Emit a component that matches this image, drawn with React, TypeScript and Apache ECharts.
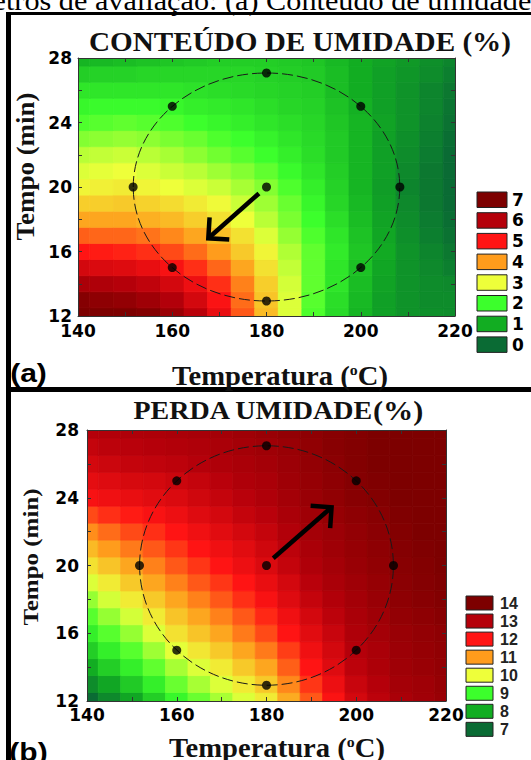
import React, { useEffect, useRef } from 'react';
import * as echarts from 'echarts';

// ---- data ----
const temperatures = [140, 145, 150, 155, 160, 165, 170, 175, 180, 185, 190, 195, 200, 205, 210, 215, 220];
const times = [12, 13, 14, 15, 16, 17, 18, 19, 20, 21, 22, 23, 24, 25, 26, 27, 28];

// (a) Conteúdo de umidade (%) — rows: time 12..28, columns: temperature 140..220
const moistureContent = [
  [7.5, 7.35, 7.2, 6.9, 6.5, 5.95, 5.3, 4.5, 3.7, 2.9, 2.1, 1.55, 1.1, 0.8, 0.6, 0.55, 0.5],
  [6.85, 6.7, 6.6, 6.4, 6.05, 5.6, 5.05, 4.35, 3.6, 2.9, 2.15, 1.6, 1.15, 0.8, 0.6, 0.5, 0.5],
  [6.2, 6.1, 6.0, 5.85, 5.6, 5.25, 4.8, 4.2, 3.5, 2.85, 2.2, 1.7, 1.2, 0.85, 0.6, 0.5, 0.45],
  [5.6, 5.5, 5.45, 5.3, 5.1, 4.8, 4.4, 3.9, 3.3, 2.75, 2.2, 1.7, 1.25, 0.9, 0.6, 0.45, 0.3],
  [5.0, 4.95, 4.9, 4.8, 4.6, 4.35, 4.0, 3.55, 3.1, 2.65, 2.2, 1.75, 1.3, 0.95, 0.6, 0.4, 0.2],
  [4.45, 4.4, 4.4, 4.3, 4.15, 3.9, 3.65, 3.3, 2.9, 2.5, 2.1, 1.7, 1.25, 0.9, 0.55, 0.3, 0.1],
  [3.9, 3.9, 3.9, 3.8, 3.7, 3.5, 3.3, 3.0, 2.7, 2.35, 2.0, 1.6, 1.2, 0.85, 0.5, 0.25, 0.05],
  [3.5, 3.5, 3.55, 3.45, 3.35, 3.2, 3.05, 2.8, 2.55, 2.25, 1.9, 1.5, 1.15, 0.8, 0.45, 0.2, 0.0],
  [3.1, 3.15, 3.2, 3.1, 3.0, 2.9, 2.8, 2.6, 2.4, 2.1, 1.8, 1.45, 1.1, 0.75, 0.4, 0.2, 0.0],
  [2.9, 2.95, 3.0, 2.9, 2.8, 2.7, 2.55, 2.4, 2.2, 1.95, 1.7, 1.4, 1.1, 0.8, 0.45, 0.2, 0.0],
  [2.7, 2.75, 2.8, 2.7, 2.6, 2.45, 2.3, 2.15, 2.0, 1.8, 1.6, 1.35, 1.1, 0.8, 0.5, 0.25, 0.0],
  [2.4, 2.45, 2.5, 2.45, 2.35, 2.25, 2.1, 2.0, 1.85, 1.7, 1.55, 1.35, 1.1, 0.8, 0.55, 0.3, 0.05],
  [2.1, 2.15, 2.2, 2.15, 2.1, 2.0, 1.9, 1.8, 1.7, 1.6, 1.5, 1.3, 1.1, 0.85, 0.6, 0.35, 0.1],
  [1.9, 1.95, 1.95, 1.95, 1.9, 1.8, 1.75, 1.7, 1.6, 1.5, 1.45, 1.25, 1.05, 0.8, 0.6, 0.4, 0.15],
  [1.7, 1.7, 1.7, 1.7, 1.7, 1.65, 1.6, 1.55, 1.5, 1.45, 1.4, 1.2, 1.0, 0.8, 0.6, 0.4, 0.2],
  [1.4, 1.45, 1.45, 1.5, 1.5, 1.5, 1.5, 1.5, 1.45, 1.4, 1.35, 1.2, 1.0, 0.8, 0.65, 0.5, 0.3],
  [1.1, 1.15, 1.2, 1.25, 1.3, 1.35, 1.4, 1.4, 1.4, 1.35, 1.3, 1.15, 1.0, 0.85, 0.7, 0.55, 0.4],
];

// (b) Perda de umidade (%) — rows: time 12..28, columns: temperature 140..220
const moistureLoss = [
  [7.0, 7.45, 7.9, 8.4, 8.9, 9.25, 9.6, 9.9, 10.2, 10.85, 11.5, 12.05, 12.6, 12.9, 13.2, 13.35, 13.5],
  [7.5, 7.9, 8.35, 8.8, 9.25, 9.6, 9.9, 10.2, 10.55, 11.15, 11.75, 12.25, 12.75, 13.0, 13.3, 13.4, 13.55],
  [8.0, 8.4, 8.8, 9.2, 9.6, 9.9, 10.2, 10.55, 10.9, 11.45, 12.0, 12.45, 12.9, 13.15, 13.4, 13.5, 13.6],
  [8.4, 8.8, 9.15, 9.55, 9.95, 10.25, 10.55, 10.9, 11.25, 11.7, 12.2, 12.6, 13.0, 13.2, 13.45, 13.55, 13.65],
  [8.8, 9.15, 9.5, 9.9, 10.3, 10.6, 10.9, 11.25, 11.6, 12.0, 12.4, 12.75, 13.1, 13.3, 13.5, 13.6, 13.7],
  [9.15, 9.5, 9.85, 10.2, 10.6, 10.9, 11.2, 11.5, 11.85, 12.2, 12.6, 12.9, 13.2, 13.4, 13.6, 13.7, 13.8],
  [9.5, 9.85, 10.2, 10.55, 10.9, 11.2, 11.5, 11.8, 12.1, 12.45, 12.8, 13.05, 13.3, 13.5, 13.7, 13.8, 13.9],
  [9.9, 10.2, 10.55, 10.9, 11.2, 11.5, 11.75, 12.0, 12.3, 12.6, 12.95, 13.2, 13.4, 13.55, 13.75, 13.85, 13.95],
  [10.3, 10.6, 10.9, 11.2, 11.5, 11.75, 12.0, 12.25, 12.5, 12.8, 13.1, 13.3, 13.5, 13.65, 13.8, 13.9, 14.0],
  [10.7, 11.0, 11.25, 11.5, 11.75, 12.0, 12.2, 12.4, 12.65, 12.9, 13.2, 13.4, 13.55, 13.7, 13.85, 13.95, 14.05],
  [11.1, 11.35, 11.6, 11.8, 12.0, 12.2, 12.4, 12.6, 12.8, 13.05, 13.3, 13.45, 13.6, 13.75, 13.9, 14.0, 14.1],
  [11.6, 11.8, 11.95, 12.1, 12.25, 12.45, 12.6, 12.8, 12.95, 13.2, 13.4, 13.55, 13.7, 13.8, 13.95, 14.05, 14.15],
  [12.1, 12.2, 12.3, 12.4, 12.5, 12.65, 12.8, 12.95, 13.1, 13.3, 13.5, 13.65, 13.8, 13.9, 14.0, 14.1, 14.2],
  [12.35, 12.45, 12.55, 12.6, 12.7, 12.8, 12.95, 13.1, 13.2, 13.4, 13.55, 13.7, 13.85, 13.95, 14.05, 14.15, 14.2],
  [12.6, 12.7, 12.8, 12.85, 12.9, 13.0, 13.1, 13.2, 13.3, 13.45, 13.6, 13.75, 13.9, 14.0, 14.1, 14.2, 14.25],
  [12.8, 12.9, 12.95, 13.0, 13.05, 13.1, 13.2, 13.3, 13.4, 13.5, 13.65, 13.8, 13.9, 14.0, 14.1, 14.2, 14.3],
  [13.0, 13.05, 13.1, 13.15, 13.2, 13.25, 13.3, 13.4, 13.5, 13.6, 13.7, 13.8, 13.9, 14.0, 14.1, 14.2, 14.3],
];

const contentLevels = [7, 6, 5, 4, 3, 2, 1, 0];
const lossLevels = [14, 13, 12, 11, 10, 9, 8, 7];
const levelColors = ['#0a6b34', '#12ad22', '#3cff2c', '#eeff3a', '#ff9c1c', '#ff1414', '#b5000a', '#7d0000'];

const xTickLabels = [140, 160, 180, 200, 220];
const yTickLabels = [12, 16, 20, 24, 28];

// central composite design points (temperature, time)
const designPoints = [
  [180, 20], [160, 15], [160, 25], [200, 15], [200, 25],
  [151.7, 20], [208.3, 20], [180, 12.93], [180, 27.07],
];
const designRegion = [[180, 20, 28.28, 7.07]]; // centre T, centre t, half-width, half-height
const arrowContent = [[178.4, 19.6, 167.65, 16.82]];
const arrowLoss = [[181.5, 20.43, 194.5, 23.44]];

// ---- helpers ----
const toCells = (grid: number[][], lo: number, hi: number) =>
  times.flatMap((t, i) => temperatures.map((T, j) => [T, t, Math.min(hi, Math.max(lo, grid[i][j]))]));

const tickFont = { fontFamily: 'DejaVu Sans', fontWeight: 'bold' as const, fontSize: 17, lineHeight: 14, color: '#000' };

const makeX = (gridIndex: number, position: 'bottom' | 'top', margin: number) => ({
  type: 'value', gridIndex, position, min: 140, max: 220, interval: 10, z: 10,
  axisLine: { show: true, onZero: false, lineStyle: { color: '#333', width: 1 } },
  axisTick: { show: true, inside: true, length: 4, lineStyle: { color: '#333', width: 1 } },
  splitLine: { show: false },
  axisLabel: position === 'bottom'
    ? { show: true, margin, ...tickFont, showMinLabel: true, showMaxLabel: true,
        formatter: (v: number) => (xTickLabels.includes(v) ? String(v) : '') }
    : { show: false },
});
const makeY = (gridIndex: number, position: 'left' | 'right', margin: number) => ({
  type: 'value', gridIndex, position, min: 12, max: 28, interval: 2, z: 10,
  axisLine: { show: true, onZero: false, lineStyle: { color: '#333', width: 1 } },
  axisTick: { show: true, inside: true, length: 4, lineStyle: { color: '#333', width: 1 } },
  splitLine: { show: false },
  axisLabel: position === 'left'
    ? { show: true, margin, ...tickFont, showMinLabel: true, showMaxLabel: true,
        formatter: (v: number) => (yTickLabels.includes(v) ? String(v) : '') }
    : { show: false },
});

const cellRender = (_p: any, api: any) => {
  const T = api.value(0);
  const t = api.value(1);
  const a = api.coord([T - 2.5, t + 0.5]);
  const b = api.coord([T + 2.5, t - 0.5]);
  const color = api.visual('color');
  return {
    type: 'rect',
    shape: { x: a[0], y: a[1], width: b[0] - a[0], height: b[1] - a[1] },
    style: { fill: color, stroke: color, lineWidth: 0.8 },
  };
};
const ellipseRender = (_p: any, api: any) => {
  const c = api.coord([api.value(0), api.value(1)]);
  const s = api.size([api.value(2), api.value(3)]);
  return {
    type: 'ellipse',
    shape: { cx: c[0], cy: c[1], rx: s[0], ry: s[1] },
    style: { fill: 'none', stroke: '#1a1a1a', lineWidth: 1, lineDash: [11, 4] },
  };
};
const arrowRender = (_p: any, api: any) => {
  const s = api.coord([api.value(0), api.value(1)]);
  const e = api.coord([api.value(2), api.value(3)]);
  const dx = s[0] - e[0];
  const dy = s[1] - e[1];
  const len = Math.hypot(dx, dy);
  const ux = dx / len;
  const uy = dy / len;
  const L = 21;
  const c = Math.SQRT1_2;
  const l1 = [e[0] + L * c * (ux - uy), e[1] + L * c * (ux + uy)];
  const l2 = [e[0] + L * c * (ux + uy), e[1] + L * c * (uy - ux)];
  return {
    type: 'group',
    children: [
      { type: 'line', shape: { x1: s[0], y1: s[1], x2: e[0], y2: e[1] }, style: { stroke: '#000', lineWidth: 4.5 } },
      { type: 'polyline', shape: { points: [l1, e, l2] }, style: { stroke: '#000', lineWidth: 4.5, fill: 'none', lineJoin: 'miter' } },
    ],
  };
};

const serif = 'Liberation Serif';

const legendGraphics = (levels: number[], x: number, y0: number, step: number, w: number, h: number, labelX: number, font: any) =>
  levels.flatMap((v, i) => [
    {
      type: 'rect',
      shape: { x, y: y0 + i * step, width: w, height: h },
      style: { fill: levelColors[v - levels[levels.length - 1]], stroke: '#222', lineWidth: 1 },
    },
    {
      type: 'text',
      x: labelX,
      y: y0 + i * step + h / 2,
      style: { text: String(v), ...font, align: 'left', verticalAlign: 'middle' },
    },
  ]);

const axisTitle = (x: number, y: number) => ({
  type: 'text', x, y, scaleX: 1.06,
  style: {
    text: '{m|Temperatura (}{s|o}{m|C)}', align: 'center', verticalAlign: 'middle',
    rich: {
      m: { fontFamily: serif, fontWeight: 'bold', fontSize: 27, fill: '#111' },
      s: { fontFamily: serif, fontWeight: 'bold', fontSize: 15, fill: '#111', verticalAlign: 'top' },
    },
  },
});

const option: any = {
  animation: false,
  backgroundColor: '#fff',
  grid: [
    { left: 78, top: 58, width: 377, height: 258 },
    { left: 87, top: 430, width: 359, height: 271 },
  ],
  xAxis: [makeX(0, 'bottom', 8), makeX(0, 'top', 0), makeX(1, 'bottom', 7), makeX(1, 'top', 0)],
  yAxis: [makeY(0, 'left', 6), makeY(0, 'right', 0), makeY(1, 'left', 8), makeY(1, 'right', 0)],
  visualMap: [
    { type: 'continuous', show: false, seriesIndex: 0, dimension: 2, min: 0, max: 7, inRange: { color: levelColors } },
    { type: 'continuous', show: false, seriesIndex: 4, dimension: 2, min: 7, max: 14, inRange: { color: levelColors } },
  ],
  series: [
    { type: 'custom', xAxisIndex: 0, yAxisIndex: 0, clip: true, encode: { x: 0, y: 1 }, data: toCells(moistureContent, 0, 7), renderItem: cellRender, silent: true },
    { type: 'custom', xAxisIndex: 0, yAxisIndex: 0, encode: { x: 0, y: 1 }, data: designRegion, renderItem: ellipseRender, silent: true },
    { type: 'scatter', xAxisIndex: 0, yAxisIndex: 0, data: designPoints, symbolSize: 9, itemStyle: { color: '#000' }, silent: true },
    { type: 'custom', xAxisIndex: 0, yAxisIndex: 0, encode: { x: 0, y: 1 }, data: arrowContent, renderItem: arrowRender, silent: true },
    { type: 'custom', xAxisIndex: 2, yAxisIndex: 2, clip: true, encode: { x: 0, y: 1 }, data: toCells(moistureLoss, 7, 14), renderItem: cellRender, silent: true },
    { type: 'custom', xAxisIndex: 2, yAxisIndex: 2, encode: { x: 0, y: 1 }, data: designRegion, renderItem: ellipseRender, silent: true },
    { type: 'scatter', xAxisIndex: 2, yAxisIndex: 2, data: designPoints, symbolSize: 9, itemStyle: { color: '#000' }, silent: true },
    { type: 'custom', xAxisIndex: 2, yAxisIndex: 2, encode: { x: 0, y: 1 }, data: arrowLoss, renderItem: arrowRender, silent: true },
  ],
  graphic: [
    // caption cut at the top of the page
    { type: 'text', x: -31, y: 1, scaleX: 1.12, style: { text: 'metros de avaliação: (a) Conteúdo de umidade', fontFamily: serif, fontSize: 27, fill: '#000', align: 'left', verticalAlign: 'middle' } },
    // frame
    { type: 'rect', shape: { x: 6, y: 12, width: 530, height: 3 }, style: { fill: '#000' } },
    { type: 'rect', shape: { x: 6, y: 12, width: 5, height: 760 }, style: { fill: '#000' } },
    { type: 'rect', shape: { x: 6, y: 387, width: 530, height: 5 }, style: { fill: '#000' } },
    // panel (a)
    { type: 'text', x: 300, y: 42, scaleX: 1.08, style: { text: 'CONTEÚDO DE UMIDADE (%)', fontFamily: serif, fontWeight: 'bold', fontSize: 27, fill: '#111', align: 'center', verticalAlign: 'middle' } },
    { type: 'text', x: 26, y: 166.5, rotation: Math.PI / 2, scaleY: 0.9, style: { text: 'Tempo (min)', fontFamily: serif, fontWeight: 'bold', fontSize: 27, fill: '#111', align: 'center', verticalAlign: 'middle' } },
    axisTitle(280, 376),
    { type: 'text', x: 28.5, y: 373.5, scaleX: 1.2, style: { text: '(a)', fontFamily: 'Liberation Sans', fontWeight: 'bold', fontSize: 25, fill: '#000', align: 'center', verticalAlign: 'middle' } },
    ...legendGraphics(contentLevels, 477, 192, 20.7, 30, 15.5, 512, { fontFamily: 'DejaVu Sans', fontWeight: 'bold', fontSize: 17, fill: '#000' }),
    // panel (b)
    {
      type: 'text', x: 278, y: 410.5, scaleX: 1.12,
      style: {
        text: '{m|PERDA UMIDADE}{p|(%)}', align: 'center', verticalAlign: 'middle',
        rich: {
          m: { fontFamily: serif, fontWeight: 'bold', fontSize: 25, fill: '#111' },
          p: { fontFamily: serif, fontWeight: 'bold', fontSize: 27, fill: '#111' },
        },
      },
    },
    { type: 'text', x: 31, y: 557, rotation: Math.PI / 2, scaleY: 0.88, style: { text: 'Tempo (min)', fontFamily: serif, fontWeight: 'bold', fontSize: 25, fill: '#111', align: 'center', verticalAlign: 'middle' } },
    axisTitle(277, 748),
    { type: 'text', x: 28.5, y: 752, scaleX: 1.2, style: { text: '(b)', fontFamily: 'Liberation Sans', fontWeight: 'bold', fontSize: 25, fill: '#000', align: 'center', verticalAlign: 'middle' } },
    ...legendGraphics(lossLevels, 466, 596, 18.05, 27, 14, 500, { fontFamily: 'Liberation Sans', fontWeight: 'bold', fontSize: 16, fill: '#222' }),
  ],
};

export default function App() {
  const ref = useRef<HTMLDivElement>(null);
  useEffect(() => {
    if (!ref.current) return;
    const chart = echarts.init(ref.current, undefined, { renderer: 'svg' });
    chart.setOption(option);
    return () => chart.dispose();
  }, []);
  return (
    <div
      ref={ref}
      style={{ position: 'fixed', left: 0, top: 0, width: 531, height: 760, background: '#fff' }}
    />
  );
}
